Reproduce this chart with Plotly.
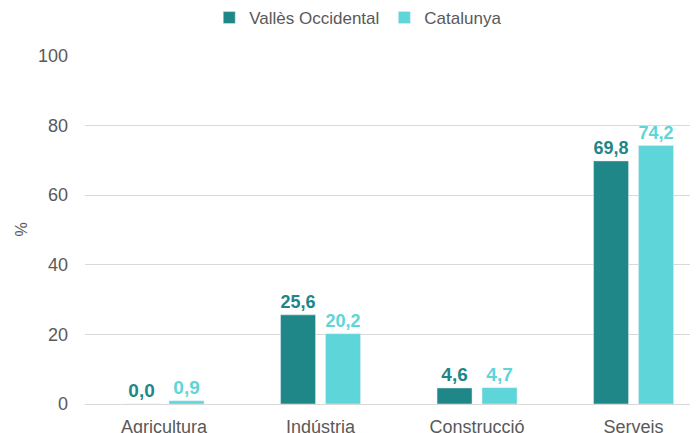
import plotly.graph_objects as go

categories = ["Agricultura", "Indústria", "Construcció", "Serveis"]
valles = [0.0, 25.6, 4.6, 69.8]
catalunya = [0.9, 20.2, 4.7, 74.2]
series_names = ["Vallès Occidental", "Catalunya"]
y_ticks = [0, 20, 40, 60, 80, 100]
y_title = "%"

c_dark = "#208789"
c_light = "#5DD5D9"
gray = "#595959"
font = "Liberation Sans, Arial, sans-serif"

fig = go.Figure()
fig.add_trace(go.Bar(
    x=categories, y=valles, name=series_names[0], marker_color=c_dark,
    texttemplate="%{y:.1f}", textposition="outside", cliponaxis=False,
    textfont=dict(family=font, size=19, color=c_dark, weight="bold"),
))
fig.add_trace(go.Bar(
    x=categories, y=catalunya, name=series_names[1], marker_color=c_light,
    texttemplate="%{y:.1f}", textposition="outside", cliponaxis=False,
    textfont=dict(family=font, size=19, color=c_light, weight="bold"),
))

fig.update_layout(
    width=698, height=433,
    margin=dict(l=77, r=0, t=47, b=37, autoexpand=False),
    paper_bgcolor="white", plot_bgcolor="white",
    barmode="group", bargap=0.425, bargroupgap=0.222,
    separators=",.",
    font=dict(family=font, size=18, color=gray),
    showlegend=True,
    legend=dict(orientation="h", x=0.44, xanchor="center", y=1.106, yanchor="middle",
                font=dict(size=17, color=gray), itemwidth=30, traceorder="normal"),
    xaxis=dict(range=[-0.505, 3.463], showgrid=False, showline=False, ticks="",
               tickfont=dict(size=18, color=gray), ticklabelstandoff=10, automargin=False),
    yaxis=dict(range=[0, 100.2], tickvals=y_ticks, showgrid=True, gridcolor="#D9D9D9",
               gridwidth=1, zeroline=True, zerolinecolor="#D9D9D9", zerolinewidth=1,
               showline=False, ticks="", tickfont=dict(size=18, color=gray),
               ticklabelstandoff=16, automargin=False),
    annotations=[dict(text=y_title, xref="paper", yref="paper", x=-0.103, y=0.5,
                      xanchor="center", yanchor="middle", textangle=-90, showarrow=False,
                      font=dict(family=font, size=16, color=gray))],
)

fig.write_html("out.html")
